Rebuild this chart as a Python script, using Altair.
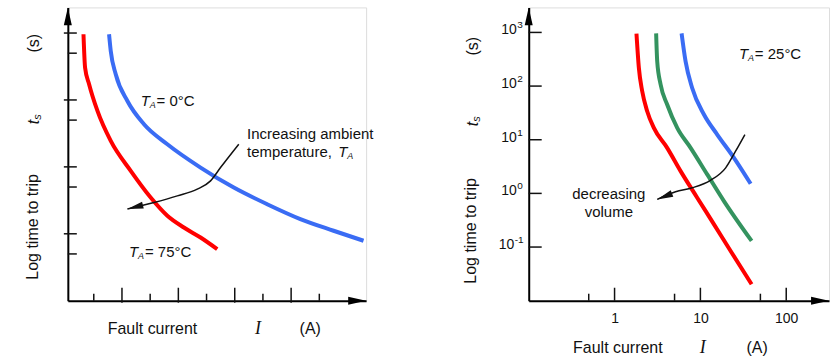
import altair as alt
import pandas as pd

# ---------------- data ----------------
# Left panel: schematic (arbitrary current units, log time)
left_red_I = [0.635, 0.692, 0.834, 1.131, 1.602, 2.310, 3.018, 3.609, 4.196, 4.788, 5.379]
left_red_t = [960, 303, 172, 68.5, 24.4, 8.71, 3.48, 1.86, 1.24, 0.88, 0.59]
left_blue_I = [1.542, 1.602, 1.779, 2.193, 2.781, 3.609, 4.788, 5.966, 7.149, 8.327, 9.506, 10.568]
left_blue_t = [960, 539, 242, 96.6, 43.4, 21.8, 9.77, 4.91, 2.77, 1.66, 1.11, 0.787]
left_arrow_I = [6.143, 5.496, 5.142, 4.671, 3.963, 3.135, 2.193]
left_arrow_t = [21.8, 9.77, 6.18, 4.65, 3.69, 2.93, 2.34]
left_x_major = [2, 4, 6, 8]
left_x_minor = [1, 3, 5, 7, 9]
left_y_major = [1000, 100, 10, 1]
left_y_minor = [500, 50, 5, 0.5]
left_x_domain = [0.08, 10.66]
left_y_domain = [0.1, 2415]
left_TA_I = [2.663, 2.249, 9.67]
left_TA_t = [96.6, 0.526, 16.9]
left_TA_rest = ["= 0°C", "= 75°C", ""]
left_note_I = [6.439, 6.439]
left_note_t = [30.6, 16.9]
left_note_text = ["Increasing ambient", "temperature,"]

# Right panel: T_A = 25 °C, three volumes
right_red_I = [1.80, 1.92, 2.10, 2.40, 2.87, 4.10, 5.88, 9.18, 14.4, 22.5, 39.5]
right_red_t = [950, 217, 80, 34, 16.6, 7.05, 2.60, 0.83, 0.265, 0.0845, 0.0203]
right_green_I = [3.05, 3.14, 3.44, 4.10, 5.37, 7.69, 12.0, 18.8, 39.5]
right_green_t = [960, 289, 107, 45.3, 16.6, 7.05, 2.26, 0.719, 0.130]
right_blue_I = [6.04, 6.72, 8.02, 11.0, 15.7, 24.6, 38.5]
right_blue_t = [960, 289, 92.2, 29.5, 12.5, 4.60, 1.51]
right_arrow_I = [33.0, 25.7, 19.7, 13.1, 8.02, 5.14, 3.14]
right_arrow_t = [12.5, 6.12, 2.99, 1.75, 1.27, 1.07, 0.773]
right_x_major = [1, 10, 100]
right_x_minor = [0.5, 5, 50]
right_y_major = [1000, 100, 10, 1, 0.1]
right_y_exp = ["3", "2", "1", "0", "-1"]
right_x_domain = [0.1, 315]
right_y_domain = [0.01, 2925]
right_TA_I = [28.1]
right_TA_t = [391]
right_TA_rest = [" = 25°C"]
right_note_I = [0.858, 0.858]
right_note_t = [0.97, 0.449]
right_note_text = ["decreasing", "volume"]

# ---------------- styles ----------------
FONT = "Liberation Sans"
SERIF = "Liberation Serif"
INK = "#111111"
RED, BLUE, GREEN = "#ff0000", "#3a6cf4", "#34935f"
LW, RW, H = 299, 301, 294
UP = "M0,0L-4,18L4,18Z"
RIGHT = "M0,0L-18,-4L-18,4Z"
HEAD = "M0,0L-16,-3.5L-16,3.5Z"

xl = alt.Scale(type="linear", domain=left_x_domain, nice=False, zero=False)
yl = alt.Scale(type="log", domain=left_y_domain, nice=False)
xr = alt.Scale(type="log", domain=right_x_domain, nice=False)
yr = alt.Scale(type="log", domain=right_y_domain, nice=False)

ax_plain = alt.Axis(domain=True, domainColor="black", domainWidth=2, ticks=False,
                    labels=False, grid=False, title=None)
ax_rx = alt.Axis(domain=True, domainColor="black", domainWidth=2, ticks=False,
                 labels=True, values=right_x_major, format="d", labelFont=FONT,
                 labelFontSize=14, labelColor=INK, labelPadding=11, labelFlush=False,
                 labelOverlap=False, grid=False, title=None)

ONE = alt.Data(values=[{}])


def txt(text, x, y, size=16, angle=0, align="center", style="normal", font=FONT, dx=0, dy=0):
    kw = dict(text=text, font=font, fontSize=size, fontStyle=style, align=align,
              baseline="middle", color=INK, dx=dx, dy=dy)
    if angle:
        kw["angle"] = angle
    return alt.Chart(ONE).mark_text(**kw).encode(x=alt.value(x), y=alt.value(y))


def panel(xs, ys, xax, series, arrow_I, arrow_t, head_angle,
          x_major, x_minor, x_dom, y_dom, TA_I, TA_t, TA_rest, note_I, note_t, note_text,
          note_align, y_major_ticks, y_minor_ticks, y_major_x0):
    X = lambda f: alt.X(f, type="quantitative", scale=xs, axis=xax)
    Y = lambda f: alt.Y(f, type="quantitative", scale=ys, axis=ax_plain)
    layers = []
    for I_vals, t_vals, col in series:
        layers.append(alt.Chart(pd.DataFrame({"I": I_vals, "t": t_vals}))
                      .mark_line(strokeWidth=4, interpolate="monotone", color=col)
                      .encode(x=X("I"), y=Y("t")))
    # ticks
    layers.append(alt.Chart(pd.DataFrame({"v": x_major})).mark_rule(color=INK, strokeWidth=1.5)
                  .encode(x=X("v"), y=alt.value(H - 13), y2=alt.value(H + (2 if y_major_x0 < 0 else 0))))
    layers.append(alt.Chart(pd.DataFrame({"v": x_minor})).mark_rule(color=INK, strokeWidth=1.5)
                  .encode(x=X("v"), y=alt.value(H - 7), y2=alt.value(H)))
    layers.append(alt.Chart(pd.DataFrame({"v": y_major_ticks})).mark_rule(color=INK, strokeWidth=1.5)
                  .encode(y=Y("v"), x=alt.value(y_major_x0), x2=alt.value(y_major_x0 + 13)))
    if y_minor_ticks:
        layers.append(alt.Chart(pd.DataFrame({"v": y_minor_ticks})).mark_rule(color=INK, strokeWidth=1.5)
                      .encode(y=Y("v"), x=alt.value(0), x2=alt.value(9)))
    # axis arrowheads
    layers.append(alt.Chart(pd.DataFrame({"I": [x_dom[0]], "t": [y_dom[1]]}))
                  .mark_point(shape=UP, size=4, filled=True, color="black", opacity=1, strokeWidth=0)
                  .encode(x=X("I"), y=Y("t")))
    layers.append(alt.Chart(pd.DataFrame({"I": [x_dom[1]], "t": [y_dom[0]]}))
                  .mark_point(shape=RIGHT, size=4, filled=True, color="black", opacity=1, strokeWidth=0)
                  .encode(x=X("I"), y=Y("t")))
    # annotation arrow
    adf = pd.DataFrame({"I": arrow_I, "t": arrow_t})
    layers.append(alt.Chart(adf).mark_line(color=INK, strokeWidth=1.5, interpolate="monotone")
                  .encode(x=X("I"), y=Y("t")))
    layers.append(alt.Chart(adf.tail(1)).mark_point(shape=HEAD, size=4, filled=True, color=INK,
                                                     opacity=1, strokeWidth=0, angle=head_angle)
                  .encode(x=X("I"), y=Y("t")))
    # T_A labels
    tdf = pd.DataFrame({"I": TA_I, "t": TA_t, "rest": TA_rest})
    layers.append(alt.Chart(tdf).mark_text(text="T", font=FONT, fontStyle="italic", fontSize=15,
                                           align="left", baseline="middle", color=INK)
                  .encode(x=X("I"), y=Y("t")))
    layers.append(alt.Chart(tdf).mark_text(text="A", font=FONT, fontStyle="italic", fontSize=9,
                                           align="left", baseline="middle", color=INK, dx=9, dy=4)
                  .encode(x=X("I"), y=Y("t")))
    layers.append(alt.Chart(tdf).mark_text(font=FONT, fontSize=15, align="left", baseline="middle",
                                           color=INK, dx=16)
                  .encode(x=X("I"), y=Y("t"), text="rest:N"))
    ndf = pd.DataFrame({"I": note_I, "t": note_t, "label": note_text})
    layers.append(alt.Chart(ndf).mark_text(font=FONT, fontSize=15, align=note_align,
                                           baseline="middle", color=INK)
                  .encode(x=X("I"), y=Y("t"), text="label:N"))
    return layers, X, Y


# ---------------- left panel ----------------
L, XL, YL = panel(xl, yl, ax_plain,
                  [(left_red_I, left_red_t, RED), (left_blue_I, left_blue_t, BLUE)],
                  left_arrow_I, left_arrow_t, 166,
                  left_x_major, left_x_minor, left_x_domain, left_y_domain,
                  left_TA_I, left_TA_t, left_TA_rest, left_note_I, left_note_t, left_note_text,
                  "left", left_y_major, left_y_minor, -4)
L += [
    txt("Log time to trip", -35, 220, angle=270),
    txt("t", -34, 115, angle=270, style="italic"),
    txt("s", -34, 115, size=11, angle=270, style="italic", align="left", dx=2.5, dy=4),
    txt("(s)", -34, 36, angle=270),
    txt("Fault current", 40, 322, align="left"),
    txt("I", 190.5, 322, size=18, style="italic", font=SERIF),
    txt("(A)", 243, 322),
    alt.Chart(ONE).mark_rule(strokeOpacity=0, color="white").encode(
        x=alt.value(-67), x2=alt.value(-67), y=alt.value(-6), y2=alt.value(350)),
]
left = alt.layer(*L).properties(width=LW, height=H)

# ---------------- right panel ----------------
R, XR, YR = panel(xr, yr, ax_rx,
                  [(right_red_I, right_red_t, RED), (right_green_I, right_green_t, GREEN),
                   (right_blue_I, right_blue_t, BLUE)],
                  right_arrow_I, right_arrow_t, 158,
                  right_x_major, right_x_minor, right_x_domain, right_y_domain,
                  right_TA_I, right_TA_t, right_TA_rest, right_note_I, right_note_t, right_note_text,
                  "center", right_y_major, [], 0)
ydf = pd.DataFrame({"t": right_y_major, "e": right_y_exp})
for cond, base_dx in [("datum.t >= 1", -12), ("datum.t < 1", -14.5)]:
    R.append(alt.Chart(ydf).transform_filter(cond).mark_text(
        text="10", font=FONT, fontSize=14, align="right", baseline="middle", color=INK, dy=-2)
        .encode(y=YR("t"), x=alt.value(base_dx)))
    R.append(alt.Chart(ydf).transform_filter(cond).mark_text(
        font=FONT, fontSize=10, align="left", baseline="middle", color=INK, dy=-7)
        .encode(y=YR("t"), x=alt.value(base_dx + 0.5), text="e:N"))
R += [
    txt("Log time to trip", -57.5, 224, angle=270),
    txt("t", -56, 117, angle=270, style="italic"),
    txt("s", -56, 117, size=11, angle=270, style="italic", align="left", dx=2.5, dy=4),
    txt("(s)", -56, 39, angle=270),
    txt("Fault current", 44.5, 341, align="left"),
    txt("I", 174.5, 341, size=18, style="italic", font=SERIF),
    txt("(A)", 229, 341),
]
right = alt.layer(*R).properties(width=RW, height=H)

chart = alt.hconcat(left, right, spacing=163, bounds="flush", padding=0).configure_view(
    stroke=None).configure(background="white")

chart.save("out.html", embed_options={"renderer": "svg", "actions": False})
